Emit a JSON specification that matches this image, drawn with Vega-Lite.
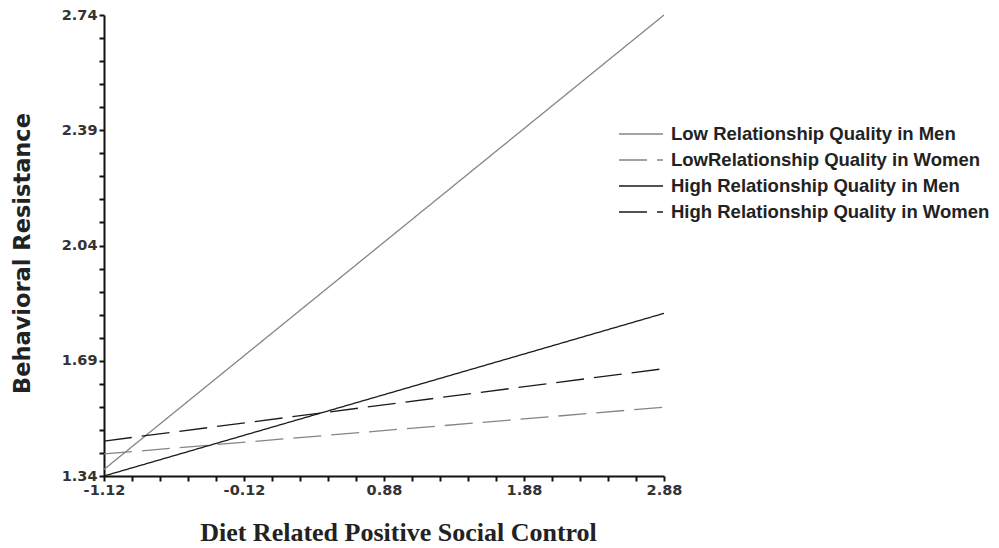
{
  "$schema": "https://vega.github.io/schema/vega-lite/v6.json",
  "width": 560,
  "height": 461,
  "autosize": "none",
  "padding": {"left": 104, "top": 15, "right": 335, "bottom": 72},
  "background": "white",
  "config": {
    "view": {"stroke": null},
    "axis": {"grid": false}
  },
  "data": {
    "values": [
      {"series": "Low Relationship Quality in Men", "x": -1.12, "y": 1.36},
      {"series": "Low Relationship Quality in Men", "x": 2.88, "y": 2.74},
      {"series": "LowRelationship Quality in Women", "x": -1.12, "y": 1.407},
      {"series": "LowRelationship Quality in Women", "x": 2.88, "y": 1.549},
      {"series": "High Relationship Quality in Men", "x": -1.12, "y": 1.34},
      {"series": "High Relationship Quality in Men", "x": 2.88, "y": 1.834},
      {"series": "High Relationship Quality in Women", "x": -1.12, "y": 1.446},
      {"series": "High Relationship Quality in Women", "x": 2.88, "y": 1.666}
    ]
  },
  "mark": {"type": "line", "clip": false},
  "encoding": {
    "x": {
      "field": "x",
      "type": "quantitative",
      "scale": {"domain": [-1.12, 2.88], "nice": false, "zero": false},
      "axis": {
        "title": "Diet Related Positive Social Control",
        "titleFont": "Liberation Serif",
        "titleFontSize": 26,
        "titleFontWeight": "bold",
        "titleColor": "#222",
        "titleX": 294,
        "titleY": 64,
        "titleBaseline": "alphabetic",
        "values": [-1.12, -0.92, -0.72, -0.52, -0.32, -0.12, 0.08, 0.28, 0.48, 0.68, 0.88, 1.08, 1.28, 1.48, 1.68, 1.88, 2.08, 2.28, 2.48, 2.68, 2.88],
        "labelExpr": "(abs(datum.value - (-1.12)) < 0.001 || abs(datum.value - (-0.12)) < 0.001 || abs(datum.value - 0.88) < 0.001 || abs(datum.value - 1.88) < 0.001 || abs(datum.value - 2.88) < 0.001) ? ((datum.value < 0 ? '-' : '') + format(abs(datum.value), '.2f')) : ''",
        "labelFont": "DejaVu Sans",
        "labelFontSize": 14.5,
        "labelFontWeight": "bold",
        "labelColor": "#333",
        "labelPadding": 2,
        "labelOverlap": false,
        "labelFlush": false,
        "domainColor": "#111",
        "domainWidth": 2,
        "tickColor": "#111",
        "tickWidth": 2,
        "tickSize": 5
      }
    },
    "y": {
      "field": "y",
      "type": "quantitative",
      "scale": {"domain": [1.34, 2.74], "nice": false, "zero": false},
      "axis": {
        "title": "Behavioral Resistance",
        "titleFont": "DejaVu Sans",
        "titleFontSize": 22.5,
        "titleFontWeight": "bold",
        "titleColor": "#222",
        "titleAngle": -90,
        "titleX": -75,
        "titleY": 238,
        "titleBaseline": "alphabetic",
        "values": [1.34, 1.41, 1.48, 1.55, 1.62, 1.69, 1.76, 1.83, 1.9, 1.97, 2.04, 2.11, 2.18, 2.25, 2.32, 2.39, 2.46, 2.53, 2.6, 2.67, 2.74],
        "labelExpr": "(abs(datum.value - 1.34) < 0.001 || abs(datum.value - 1.69) < 0.001 || abs(datum.value - 2.04) < 0.001 || abs(datum.value - 2.39) < 0.001 || abs(datum.value - 2.74) < 0.001) ? format(datum.value, '.2f') : ''",
        "labelFont": "DejaVu Sans",
        "labelFontSize": 14.5,
        "labelFontWeight": "bold",
        "labelColor": "#333",
        "labelPadding": 2,
        "labelOverlap": false,
        "labelFlush": false,
        "domainColor": "#111",
        "domainWidth": 2,
        "tickColor": "#111",
        "tickWidth": 2,
        "tickSize": 5
      }
    },
    "color": {
      "field": "series",
      "type": "nominal",
      "scale": {
        "domain": ["Low Relationship Quality in Men", "LowRelationship Quality in Women", "High Relationship Quality in Men", "High Relationship Quality in Women"],
        "range": ["#858585", "#858585", "#1a1a1a", "#1a1a1a"]
      },
      "legend": {
        "title": null,
        "orient": "none",
        "legendX": 525,
        "legendY": 107,
        "symbolType": "M-2,0H2",
        "symbolSize": 484,
        "labelFont": "Liberation Sans",
        "labelFontSize": 18.5,
        "labelFontWeight": "bold",
        "labelColor": "#222",
        "labelOffset": 18,
        "rowPadding": 4,
        "labelLimit": 400
      }
    },
    "strokeDash": {
      "field": "series",
      "type": "nominal",
      "scale": {
        "domain": ["Low Relationship Quality in Men", "LowRelationship Quality in Women", "High Relationship Quality in Men", "High Relationship Quality in Women"],
        "range": [[1, 0], [28, 10], [1, 0], [28, 10]]
      },
      "legend": null
    },
    "strokeWidth": {
      "field": "series",
      "type": "nominal",
      "scale": {
        "domain": ["Low Relationship Quality in Men", "LowRelationship Quality in Women", "High Relationship Quality in Men", "High Relationship Quality in Women"],
        "range": [1.3, 1.3, 2.2, 2.2]
      },
      "legend": null
    }
  }
}
